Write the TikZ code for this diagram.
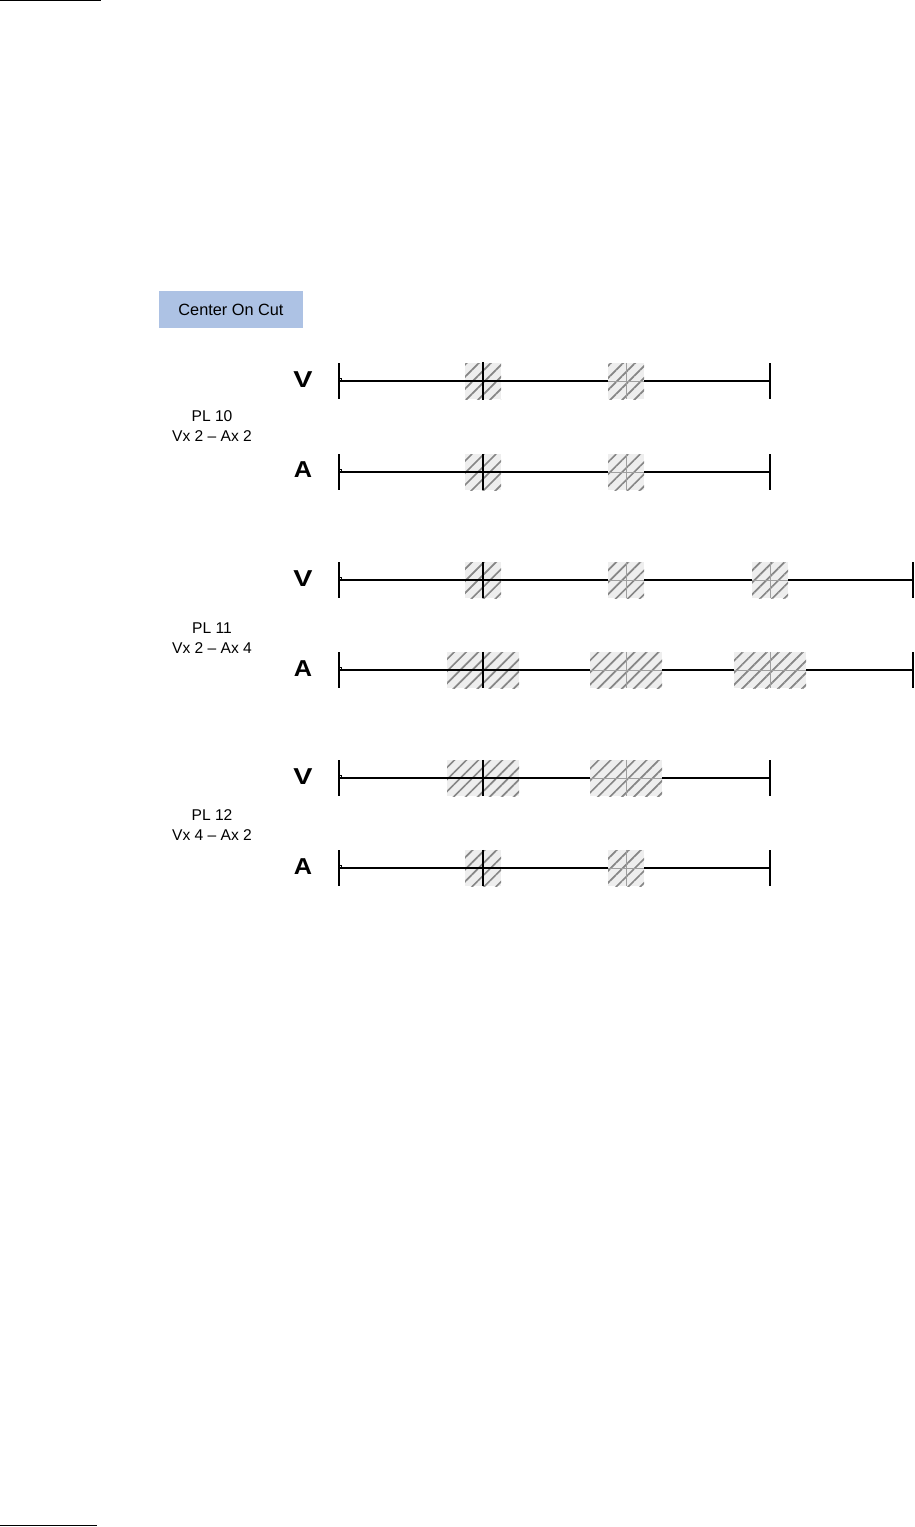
\documentclass[tikz,border=0pt]{standalone}
\usepackage{fontspec}
\setmainfont{Liberation Sans}
\usetikzlibrary{positioning}
\usetikzlibrary{patterns.meta}
\definecolor{cutblue}{RGB}{173,194,228}

\begin{document}
\begin{tikzpicture}[x=1pt,y=-1pt]
    \tikzset{
    clip box/.style={
        minimum width=36pt,
        minimum height=36pt,
        inner sep=0pt,
        preaction={fill=gray!13},
        pattern={Lines[angle=45,distance=8.5pt,line width=1.7pt]},
        pattern color=gray!95
    },
    wide box/.style={
        clip box,
        minimum width=72pt
    },
    track/.style={
        line width=1.2pt
    },
    cut/.style={
        line width=1.2pt,
        black
    },
    ghost/.style={
        line width=0.8pt,
        gray!75
    },
    plabel/.style={
        align=center,
        font=\fontsize{15.6}{20}\selectfont
    },
    tlabel/.style={
        font=\bfseries\fontsize{23}{23}\selectfont
    }
}
        \useasboundingbox (0,0) rectangle (914,1527);
        \draw[line width=1pt] (0,0.6) -- (101,0.6);
        \draw[line width=1pt] (0,1525.5) -- (97,1525.5);

        \node[fill=cutblue, minimum width=144pt, minimum height=37pt, font=\fontsize{16.3}{16}\selectfont] (title) at (231,309.5) {Center On Cut};

        % PL 10
        \node[plabel] (pl10) at (212,426) {PL 10\\Vx 2 -- Ax 2};
        \node[tlabel] (v10) at (303,380) {\scalebox{1.25}[1]{V}};
        \node[tlabel] (a10) at (303,470) {\scalebox{1.1}[1]{A}};
        \coordinate (v10s) at (339,381);
        \coordinate (v10e) at (770,381);
        \coordinate (a10s) at (339,472);
        \coordinate (a10e) at (770,472);
        \draw[track] (v10s) -- (v10e);
        \draw[track] (a10s) -- (a10e);
        \draw[track] (v10s) ++(0,-18) -- ++(0,36);
        \draw[track] (v10e) ++(0,-18) -- ++(0,36);
        \draw[track] (a10s) ++(0,-18) -- ++(0,36);
        \draw[track] (a10e) ++(0,-18) -- ++(0,36);
        \draw[line width=0.6pt] (v10s) ++(0,-2.5) rectangle ++(2.5,2.5);
        \draw[line width=0.6pt] (a10s) ++(0,-2.5) rectangle ++(2.5,2.5);
        \node[clip box] (v10a) at (483,381) {};
        \node[clip box] (v10b) at (626,381) {};
        \node[clip box] (a10a) at (483,472) {};
        \node[clip box] (a10b) at (626,472) {};
        \draw[cut] (v10a.north) -- (v10a.south);
        \draw[cut] (v10a.west) -- (v10a.east);
        \draw[cut] (a10a.north) -- (a10a.south);
        \draw[cut] (a10a.west) -- (a10a.east);
        \draw[ghost] (v10b.north) -- (v10b.south);
        \draw[ghost] (v10b.west) -- (v10b.east);
        \draw[ghost] (a10b.north) -- (a10b.south);
        \draw[ghost] (a10b.west) -- (a10b.east);

        % PL 11
        \node[plabel] (pl11) at (212,638) {PL 11\\Vx 2 -- Ax 4};
        \node[tlabel] (v11) at (303,579) {\scalebox{1.25}[1]{V}};
        \node[tlabel] (a11) at (303,669) {\scalebox{1.1}[1]{A}};
        \coordinate (v11s) at (339,580);
        \coordinate (v11e) at (913,580);
        \coordinate (a11s) at (339,670);
        \coordinate (a11e) at (913,670);
        \draw[track] (v11s) -- (v11e);
        \draw[track] (a11s) -- (a11e);
        \draw[track] (v11s) ++(0,-18) -- ++(0,36);
        \draw[track] (v11e) ++(0,-18) -- ++(0,36);
        \draw[track] (a11s) ++(0,-18) -- ++(0,36);
        \draw[track] (a11e) ++(0,-18) -- ++(0,36);
        \draw[line width=0.6pt] (v11s) ++(0,-2.5) rectangle ++(2.5,2.5);
        \draw[line width=0.6pt] (a11s) ++(0,-2.5) rectangle ++(2.5,2.5);
        \node[clip box] (v11a) at (483,580) {};
        \node[clip box] (v11b) at (626,580) {};
        \node[clip box] (v11c) at (770,580) {};
        \node[wide box] (a11a) at (483,670) {};
        \node[wide box] (a11b) at (626,670) {};
        \node[wide box] (a11c) at (770,670) {};
        \draw[cut] (v11a.north) -- (v11a.south);
        \draw[cut] (v11a.west) -- (v11a.east);
        \draw[cut] (a11a.north) -- (a11a.south);
        \draw[cut] (a11a.west) -- (a11a.east);
        \draw[ghost] (v11b.north) -- (v11b.south);
        \draw[ghost] (v11b.west) -- (v11b.east);
        \draw[ghost] (v11c.north) -- (v11c.south);
        \draw[ghost] (v11c.west) -- (v11c.east);
        \draw[ghost] (a11b.north) -- (a11b.south);
        \draw[ghost] (a11b.west) -- (a11b.east);
        \draw[ghost] (a11c.north) -- (a11c.south);
        \draw[ghost] (a11c.west) -- (a11c.east);

        % PL 12
        \node[plabel] (pl12) at (212,825) {PL 12\\Vx 4 -- Ax 2};
        \node[tlabel] (v12) at (303,777) {\scalebox{1.25}[1]{V}};
        \node[tlabel] (a12) at (303,867) {\scalebox{1.1}[1]{A}};
        \coordinate (v12s) at (339,778);
        \coordinate (v12e) at (770,778);
        \coordinate (a12s) at (339,868);
        \coordinate (a12e) at (770,868);
        \draw[track] (v12s) -- (v12e);
        \draw[track] (a12s) -- (a12e);
        \draw[track] (v12s) ++(0,-18) -- ++(0,36);
        \draw[track] (v12e) ++(0,-18) -- ++(0,36);
        \draw[track] (a12s) ++(0,-18) -- ++(0,36);
        \draw[track] (a12e) ++(0,-18) -- ++(0,36);
        \draw[line width=0.6pt] (v12s) ++(0,-2.5) rectangle ++(2.5,2.5);
        \draw[line width=0.6pt] (a12s) ++(0,-2.5) rectangle ++(2.5,2.5);
        \node[wide box] (v12a) at (483,778) {};
        \node[wide box] (v12b) at (626,778) {};
        \node[clip box] (a12a) at (483,868) {};
        \node[clip box] (a12b) at (626,868) {};
        \draw[cut] (v12a.north) -- (v12a.south);
        \draw[cut] (v12a.west) -- (v12a.east);
        \draw[cut] (a12a.north) -- (a12a.south);
        \draw[cut] (a12a.west) -- (a12a.east);
        \draw[ghost] (v12b.north) -- (v12b.south);
        \draw[ghost] (v12b.west) -- (v12b.east);
        \draw[ghost] (a12b.north) -- (a12b.south);
        \draw[ghost] (a12b.west) -- (a12b.east);
    \end{tikzpicture}
\end{document}
